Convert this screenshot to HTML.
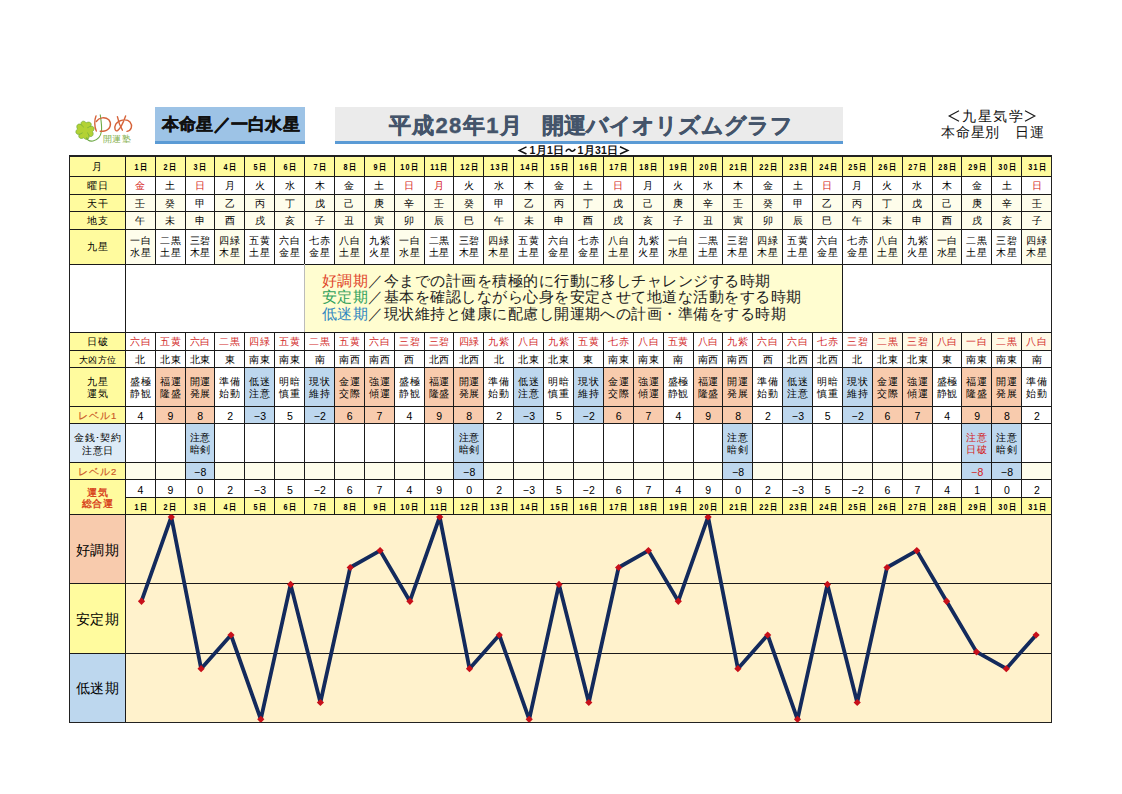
<!DOCTYPE html>
<html><head><meta charset="utf-8">
<style>
html,body{margin:0;padding:0;background:#fff;}
body{width:1122px;height:794px;position:relative;overflow:hidden;font-family:"Liberation Sans",sans-serif;color:#222;}
.r{position:absolute;}
.t{position:absolute;display:flex;align-items:center;justify-content:center;text-align:center;font-size:9.5px;line-height:12px;white-space:nowrap;letter-spacing:0.8px;box-sizing:border-box;padding-top:1.5px;padding-left:0.8px;color:#000;}
.t span{display:block;}
.hd{font-weight:bold;font-size:9px;letter-spacing:0.5px;padding-top:2px;}
.hd span{transform:scaleX(0.8);}
.hd i{font-style:normal;letter-spacing:1.6px;}
.lb{font-size:9.5px;letter-spacing:1.2px;}
.big{font-size:14px;}
.hj{color:#D22A2A;padding-top:2px;}
.nm{font-size:10.5px;padding-top:2.5px;letter-spacing:0.3px;}
.chart{position:absolute;left:0;top:0;}
.msg{position:absolute;font-size:15px;line-height:16.5px;color:#222;white-space:nowrap;letter-spacing:0.47px;}
.box1{position:absolute;left:155.3px;top:106.8px;width:149.5px;height:37.2px;background:#9DC3E6;}
.box1 .bb{position:absolute;left:0;bottom:0;width:100%;height:3.4px;background:#5B9BD5;}
.box1 .tx{position:absolute;left:6.5px;top:6px;font-size:17px;font-weight:bold;color:#111;white-space:nowrap;letter-spacing:0.28px;-webkit-text-stroke:0.45px #111;}
.box2{position:absolute;left:334.7px;top:107px;width:508px;height:37px;background:#EBEBEB;}
.box2 .bb{position:absolute;left:0;bottom:0;width:100%;height:3px;background:#5B9BD5;}
.box2 .tx{position:absolute;left:54px;top:4px;font-size:22px;font-weight:bold;color:#44546A;white-space:nowrap;letter-spacing:0.42px;-webkit-text-stroke:0.4px #44546A;}
.sub{position:absolute;top:143.5px;font-size:10.5px;line-height:12px;font-weight:bold;color:#111;white-space:nowrap;letter-spacing:0.3px;}
.rt{position:absolute;font-size:14px;line-height:17px;color:#111;white-space:nowrap;}
.logo{position:absolute;}
.yume{position:absolute;left:93px;top:110px;font-size:19px;color:#E06030;}
.kaiun{position:absolute;left:103px;top:134px;font-size:9px;line-height:11px;color:#86B04E;letter-spacing:0.3px;}
</style></head><body>
<svg class="logo" width="80" height="50" viewBox="70 104 80 50" style="left:70px;top:104px">
<g transform="translate(85,130.3) rotate(10)" fill="#B3D235" stroke="#76AE3C" stroke-width="0.7">
<path id="lf" d="M0,0.6 C-1.8,-1.5 -5.2,-3.2 -5.2,-6.2 C-5.2,-8.8 -2.2,-9.6 0,-7.6 C2.2,-9.6 5.2,-8.8 5.2,-6.2 C5.2,-3.2 1.8,-1.5 0,0.6Z"/>
<path d="M0,0.6 C-1.8,-1.5 -5.2,-3.2 -5.2,-6.2 C-5.2,-8.8 -2.2,-9.6 0,-7.6 C2.2,-9.6 5.2,-8.8 5.2,-6.2 C5.2,-3.2 1.8,-1.5 0,0.6Z" transform="rotate(90)"/>
<path d="M0,0.6 C-1.8,-1.5 -5.2,-3.2 -5.2,-6.2 C-5.2,-8.8 -2.2,-9.6 0,-7.6 C2.2,-9.6 5.2,-8.8 5.2,-6.2 C5.2,-3.2 1.8,-1.5 0,0.6Z" transform="rotate(180)"/>
<path d="M0,0.6 C-1.8,-1.5 -5.2,-3.2 -5.2,-6.2 C-5.2,-8.8 -2.2,-9.6 0,-7.6 C2.2,-9.6 5.2,-8.8 5.2,-6.2 C5.2,-3.2 1.8,-1.5 0,0.6Z" transform="rotate(270)"/>
</g>
<g transform="translate(85,130.3) rotate(10)" fill="#B3D235" stroke="none">
<circle r="3.2"/>
</g>
<path d="M86.5,137.5 C87.5,140.5 90,141.5 93,141 C97.5,140 100.8,136 101.5,131 C102,126 101,120 100.2,114.5" fill="none" stroke="#6FAA48" stroke-width="1.1"/>
<g fill="none" stroke="#D6633A" stroke-width="1.4" stroke-linecap="round">
<path d="M96,116 C94.3,120 94.3,127 96.3,131"/>
<path d="M96.3,121.5 C99,117.5 105,116.5 108.8,119.8 C112,123.5 110.5,129.8 104.5,131 C102.5,131.4 101.3,131.4 100.2,131.2"/>
<path d="M117.4,116.6 C118.3,121 119.8,126 122.4,130.2"/>
<path d="M125.6,116 C123.5,122 120.5,128.5 117.6,130.6 C115.2,132 113.8,128 115.8,124.2 C118.5,120 126.5,118.2 130,122 C133,125.8 131.5,130.3 127,131.4"/>
</g>
</svg>
<div class="kaiun">開運塾</div>
<div class="box1"><div class="bb"></div><div class="tx">本命星／一白水星</div></div>
<div class="box2"><div class="bb"></div><div class="tx" style="left:54px;letter-spacing:1.4px">平成28年1月</div><div class="tx" style="left:207px;letter-spacing:0px">開運バイオリズムグラフ</div></div>
<svg class="logo" width="1122" height="160" style="left:0;top:0" viewBox="0 0 1122 160">
<g fill="none" stroke="#1a1a1a" stroke-width="1.15">
<polyline points="959,110.8 949.2,116 959,121.2"/><polyline points="1025,110.8 1034.8,116 1025,121.2"/>
</g>
<g fill="none" stroke="#111" stroke-width="1.5">
<polyline points="526.5,146.8 519.2,150.4 526.5,154"/><polyline points="620,146.8 627.8,150.4 620,154"/>
<path d="M565.8,151.6 C567.5,148.6 569.5,148.8 570.5,150.2 C571.5,151.6 573.5,151.8 575.3,149"/>
</g>
</svg>
<div class="rt" style="left:962px;top:108px;letter-spacing:1.55px">九星気学</div>
<div class="rt" style="left:940.8px;top:124px;letter-spacing:0.9px">本命星別　日運</div>
<div class="sub" style="left:529.5px">1月1日</div>
<div class="sub" style="left:577.5px">1月31日</div>
<div class="r" style="left:69.50px;top:156.00px;width:55.80px;height:20.50px;background:#FFFB9E"></div><div class="r" style="left:69.50px;top:176.50px;width:55.80px;height:17.50px;background:#FFFB9E"></div><div class="r" style="left:69.50px;top:194.00px;width:55.80px;height:17.50px;background:#FFFB9E"></div><div class="r" style="left:69.50px;top:211.50px;width:55.80px;height:17.50px;background:#FFFB9E"></div><div class="r" style="left:69.50px;top:229.00px;width:55.80px;height:35.00px;background:#FFFB9E"></div><div class="r" style="left:69.50px;top:332.40px;width:55.80px;height:17.90px;background:#FFFB9E"></div><div class="r" style="left:69.50px;top:350.30px;width:55.80px;height:17.20px;background:#FFFB9E"></div><div class="r" style="left:69.50px;top:367.50px;width:55.80px;height:38.60px;background:#FFFB9E"></div><div class="r" style="left:69.50px;top:406.10px;width:55.80px;height:17.40px;background:#FFFB9E"></div><div class="r" style="left:69.50px;top:423.50px;width:55.80px;height:38.90px;background:#DDEBF7"></div><div class="r" style="left:69.50px;top:462.40px;width:55.80px;height:17.00px;background:#FFFB9E"></div><div class="r" style="left:69.50px;top:479.40px;width:55.80px;height:35.10px;background:#FFFB9E"></div><div class="r" style="left:69.50px;top:514.50px;width:55.80px;height:68.70px;background:#F8CBAD"></div><div class="r" style="left:69.50px;top:583.20px;width:55.80px;height:69.90px;background:#FFFB9E"></div><div class="r" style="left:69.50px;top:653.10px;width:55.80px;height:69.20px;background:#BDD7EE"></div><div class="r" style="left:125.30px;top:514.50px;width:926.28px;height:207.80px;background:#FFF2CC"></div><div class="r" style="left:125.30px;top:156.00px;width:29.88px;height:20.50px;background:#FFFB9E"></div><div class="r" style="left:125.30px;top:497.50px;width:29.88px;height:17.00px;background:#FFFB9E"></div><div class="r" style="left:125.30px;top:194.00px;width:29.88px;height:17.50px;background:#FEFDEB"></div><div class="r" style="left:125.30px;top:211.50px;width:29.88px;height:17.50px;background:#FEFDEB"></div><div class="r" style="left:125.30px;top:229.00px;width:29.88px;height:35.00px;background:#FEFDEB"></div><div class="r" style="left:125.30px;top:462.40px;width:29.88px;height:17.00px;background:#FEFDEB"></div><div class="r" style="left:155.18px;top:156.00px;width:29.88px;height:20.50px;background:#FFFB9E"></div><div class="r" style="left:155.18px;top:497.50px;width:29.88px;height:17.00px;background:#FFFB9E"></div><div class="r" style="left:155.18px;top:194.00px;width:29.88px;height:17.50px;background:#FEFDEB"></div><div class="r" style="left:155.18px;top:211.50px;width:29.88px;height:17.50px;background:#FEFDEB"></div><div class="r" style="left:155.18px;top:367.50px;width:29.88px;height:56.00px;background:#F8CBAD"></div><div class="r" style="left:155.18px;top:462.40px;width:29.88px;height:17.00px;background:#FEFDEB"></div><div class="r" style="left:185.06px;top:156.00px;width:29.88px;height:20.50px;background:#FFFB9E"></div><div class="r" style="left:185.06px;top:497.50px;width:29.88px;height:17.00px;background:#FFFB9E"></div><div class="r" style="left:185.06px;top:211.50px;width:29.88px;height:17.50px;background:#FEFDEB"></div><div class="r" style="left:185.06px;top:367.50px;width:29.88px;height:56.00px;background:#F8CBAD"></div><div class="r" style="left:185.06px;top:423.50px;width:29.88px;height:55.90px;background:#BDD7EE"></div><div class="r" style="left:214.94px;top:156.00px;width:29.88px;height:20.50px;background:#FFFB9E"></div><div class="r" style="left:214.94px;top:497.50px;width:29.88px;height:17.00px;background:#FFFB9E"></div><div class="r" style="left:214.94px;top:194.00px;width:29.88px;height:17.50px;background:#FEFDEB"></div><div class="r" style="left:214.94px;top:211.50px;width:29.88px;height:17.50px;background:#FEFDEB"></div><div class="r" style="left:214.94px;top:229.00px;width:29.88px;height:35.00px;background:#FEFDEB"></div><div class="r" style="left:214.94px;top:462.40px;width:29.88px;height:17.00px;background:#FEFDEB"></div><div class="r" style="left:244.82px;top:156.00px;width:29.88px;height:20.50px;background:#FFFB9E"></div><div class="r" style="left:244.82px;top:497.50px;width:29.88px;height:17.00px;background:#FFFB9E"></div><div class="r" style="left:244.82px;top:194.00px;width:29.88px;height:17.50px;background:#FEFDEB"></div><div class="r" style="left:244.82px;top:211.50px;width:29.88px;height:17.50px;background:#FEFDEB"></div><div class="r" style="left:244.82px;top:367.50px;width:29.88px;height:56.00px;background:#BDD7EE"></div><div class="r" style="left:244.82px;top:462.40px;width:29.88px;height:17.00px;background:#FEFDEB"></div><div class="r" style="left:274.70px;top:156.00px;width:29.88px;height:20.50px;background:#FFFB9E"></div><div class="r" style="left:274.70px;top:497.50px;width:29.88px;height:17.00px;background:#FFFB9E"></div><div class="r" style="left:274.70px;top:194.00px;width:29.88px;height:17.50px;background:#FEFDEB"></div><div class="r" style="left:274.70px;top:211.50px;width:29.88px;height:17.50px;background:#FEFDEB"></div><div class="r" style="left:274.70px;top:462.40px;width:29.88px;height:17.00px;background:#FEFDEB"></div><div class="r" style="left:304.58px;top:156.00px;width:29.88px;height:20.50px;background:#FFFB9E"></div><div class="r" style="left:304.58px;top:497.50px;width:29.88px;height:17.00px;background:#FFFB9E"></div><div class="r" style="left:304.58px;top:194.00px;width:29.88px;height:17.50px;background:#FEFDEB"></div><div class="r" style="left:304.58px;top:211.50px;width:29.88px;height:17.50px;background:#FEFDEB"></div><div class="r" style="left:304.58px;top:367.50px;width:29.88px;height:56.00px;background:#BDD7EE"></div><div class="r" style="left:304.58px;top:462.40px;width:29.88px;height:17.00px;background:#FEFDEB"></div><div class="r" style="left:334.46px;top:156.00px;width:29.88px;height:20.50px;background:#FFFB9E"></div><div class="r" style="left:334.46px;top:497.50px;width:29.88px;height:17.00px;background:#FFFB9E"></div><div class="r" style="left:334.46px;top:194.00px;width:29.88px;height:17.50px;background:#FEFDEB"></div><div class="r" style="left:334.46px;top:211.50px;width:29.88px;height:17.50px;background:#FEFDEB"></div><div class="r" style="left:334.46px;top:229.00px;width:29.88px;height:35.00px;background:#FEFDEB"></div><div class="r" style="left:334.46px;top:367.50px;width:29.88px;height:56.00px;background:#F8CBAD"></div><div class="r" style="left:334.46px;top:462.40px;width:29.88px;height:17.00px;background:#FEFDEB"></div><div class="r" style="left:364.34px;top:156.00px;width:29.88px;height:20.50px;background:#FFFB9E"></div><div class="r" style="left:364.34px;top:497.50px;width:29.88px;height:17.00px;background:#FFFB9E"></div><div class="r" style="left:364.34px;top:194.00px;width:29.88px;height:17.50px;background:#FEFDEB"></div><div class="r" style="left:364.34px;top:211.50px;width:29.88px;height:17.50px;background:#FEFDEB"></div><div class="r" style="left:364.34px;top:367.50px;width:29.88px;height:56.00px;background:#F8CBAD"></div><div class="r" style="left:364.34px;top:462.40px;width:29.88px;height:17.00px;background:#FEFDEB"></div><div class="r" style="left:394.22px;top:156.00px;width:29.88px;height:20.50px;background:#FFFB9E"></div><div class="r" style="left:394.22px;top:497.50px;width:29.88px;height:17.00px;background:#FFFB9E"></div><div class="r" style="left:394.22px;top:194.00px;width:29.88px;height:17.50px;background:#FEFDEB"></div><div class="r" style="left:394.22px;top:211.50px;width:29.88px;height:17.50px;background:#FEFDEB"></div><div class="r" style="left:394.22px;top:229.00px;width:29.88px;height:35.00px;background:#FEFDEB"></div><div class="r" style="left:394.22px;top:462.40px;width:29.88px;height:17.00px;background:#FEFDEB"></div><div class="r" style="left:424.10px;top:156.00px;width:29.88px;height:20.50px;background:#FFFB9E"></div><div class="r" style="left:424.10px;top:497.50px;width:29.88px;height:17.00px;background:#FFFB9E"></div><div class="r" style="left:424.10px;top:194.00px;width:29.88px;height:17.50px;background:#FEFDEB"></div><div class="r" style="left:424.10px;top:211.50px;width:29.88px;height:17.50px;background:#FEFDEB"></div><div class="r" style="left:424.10px;top:367.50px;width:29.88px;height:56.00px;background:#F8CBAD"></div><div class="r" style="left:424.10px;top:462.40px;width:29.88px;height:17.00px;background:#FEFDEB"></div><div class="r" style="left:453.98px;top:156.00px;width:29.88px;height:20.50px;background:#FFFB9E"></div><div class="r" style="left:453.98px;top:497.50px;width:29.88px;height:17.00px;background:#FFFB9E"></div><div class="r" style="left:453.98px;top:194.00px;width:29.88px;height:17.50px;background:#FEFDEB"></div><div class="r" style="left:453.98px;top:211.50px;width:29.88px;height:17.50px;background:#FEFDEB"></div><div class="r" style="left:453.98px;top:367.50px;width:29.88px;height:56.00px;background:#F8CBAD"></div><div class="r" style="left:453.98px;top:423.50px;width:29.88px;height:55.90px;background:#BDD7EE"></div><div class="r" style="left:483.86px;top:156.00px;width:29.88px;height:20.50px;background:#FFFB9E"></div><div class="r" style="left:483.86px;top:497.50px;width:29.88px;height:17.00px;background:#FFFB9E"></div><div class="r" style="left:483.86px;top:211.50px;width:29.88px;height:17.50px;background:#FEFDEB"></div><div class="r" style="left:483.86px;top:229.00px;width:29.88px;height:35.00px;background:#FEFDEB"></div><div class="r" style="left:483.86px;top:462.40px;width:29.88px;height:17.00px;background:#FEFDEB"></div><div class="r" style="left:513.74px;top:156.00px;width:29.88px;height:20.50px;background:#FFFB9E"></div><div class="r" style="left:513.74px;top:497.50px;width:29.88px;height:17.00px;background:#FFFB9E"></div><div class="r" style="left:513.74px;top:194.00px;width:29.88px;height:17.50px;background:#FEFDEB"></div><div class="r" style="left:513.74px;top:211.50px;width:29.88px;height:17.50px;background:#FEFDEB"></div><div class="r" style="left:513.74px;top:367.50px;width:29.88px;height:56.00px;background:#BDD7EE"></div><div class="r" style="left:513.74px;top:462.40px;width:29.88px;height:17.00px;background:#FEFDEB"></div><div class="r" style="left:543.62px;top:156.00px;width:29.88px;height:20.50px;background:#FFFB9E"></div><div class="r" style="left:543.62px;top:497.50px;width:29.88px;height:17.00px;background:#FFFB9E"></div><div class="r" style="left:543.62px;top:194.00px;width:29.88px;height:17.50px;background:#FEFDEB"></div><div class="r" style="left:543.62px;top:211.50px;width:29.88px;height:17.50px;background:#FEFDEB"></div><div class="r" style="left:543.62px;top:462.40px;width:29.88px;height:17.00px;background:#FEFDEB"></div><div class="r" style="left:573.50px;top:156.00px;width:29.88px;height:20.50px;background:#FFFB9E"></div><div class="r" style="left:573.50px;top:497.50px;width:29.88px;height:17.00px;background:#FFFB9E"></div><div class="r" style="left:573.50px;top:194.00px;width:29.88px;height:17.50px;background:#FEFDEB"></div><div class="r" style="left:573.50px;top:211.50px;width:29.88px;height:17.50px;background:#FEFDEB"></div><div class="r" style="left:573.50px;top:367.50px;width:29.88px;height:56.00px;background:#BDD7EE"></div><div class="r" style="left:573.50px;top:462.40px;width:29.88px;height:17.00px;background:#FEFDEB"></div><div class="r" style="left:603.38px;top:156.00px;width:29.88px;height:20.50px;background:#FFFB9E"></div><div class="r" style="left:603.38px;top:497.50px;width:29.88px;height:17.00px;background:#FFFB9E"></div><div class="r" style="left:603.38px;top:194.00px;width:29.88px;height:17.50px;background:#FEFDEB"></div><div class="r" style="left:603.38px;top:211.50px;width:29.88px;height:17.50px;background:#FEFDEB"></div><div class="r" style="left:603.38px;top:229.00px;width:29.88px;height:35.00px;background:#FEFDEB"></div><div class="r" style="left:603.38px;top:367.50px;width:29.88px;height:56.00px;background:#F8CBAD"></div><div class="r" style="left:603.38px;top:462.40px;width:29.88px;height:17.00px;background:#FEFDEB"></div><div class="r" style="left:633.26px;top:156.00px;width:29.88px;height:20.50px;background:#FFFB9E"></div><div class="r" style="left:633.26px;top:497.50px;width:29.88px;height:17.00px;background:#FFFB9E"></div><div class="r" style="left:633.26px;top:194.00px;width:29.88px;height:17.50px;background:#FEFDEB"></div><div class="r" style="left:633.26px;top:211.50px;width:29.88px;height:17.50px;background:#FEFDEB"></div><div class="r" style="left:633.26px;top:367.50px;width:29.88px;height:56.00px;background:#F8CBAD"></div><div class="r" style="left:633.26px;top:462.40px;width:29.88px;height:17.00px;background:#FEFDEB"></div><div class="r" style="left:663.14px;top:156.00px;width:29.88px;height:20.50px;background:#FFFB9E"></div><div class="r" style="left:663.14px;top:497.50px;width:29.88px;height:17.00px;background:#FFFB9E"></div><div class="r" style="left:663.14px;top:194.00px;width:29.88px;height:17.50px;background:#FEFDEB"></div><div class="r" style="left:663.14px;top:211.50px;width:29.88px;height:17.50px;background:#FEFDEB"></div><div class="r" style="left:663.14px;top:229.00px;width:29.88px;height:35.00px;background:#FEFDEB"></div><div class="r" style="left:663.14px;top:462.40px;width:29.88px;height:17.00px;background:#FEFDEB"></div><div class="r" style="left:693.02px;top:156.00px;width:29.88px;height:20.50px;background:#FFFB9E"></div><div class="r" style="left:693.02px;top:497.50px;width:29.88px;height:17.00px;background:#FFFB9E"></div><div class="r" style="left:693.02px;top:194.00px;width:29.88px;height:17.50px;background:#FEFDEB"></div><div class="r" style="left:693.02px;top:211.50px;width:29.88px;height:17.50px;background:#FEFDEB"></div><div class="r" style="left:693.02px;top:367.50px;width:29.88px;height:56.00px;background:#F8CBAD"></div><div class="r" style="left:693.02px;top:462.40px;width:29.88px;height:17.00px;background:#FEFDEB"></div><div class="r" style="left:722.90px;top:156.00px;width:29.88px;height:20.50px;background:#FFFB9E"></div><div class="r" style="left:722.90px;top:497.50px;width:29.88px;height:17.00px;background:#FFFB9E"></div><div class="r" style="left:722.90px;top:194.00px;width:29.88px;height:17.50px;background:#FEFDEB"></div><div class="r" style="left:722.90px;top:211.50px;width:29.88px;height:17.50px;background:#FEFDEB"></div><div class="r" style="left:722.90px;top:367.50px;width:29.88px;height:56.00px;background:#F8CBAD"></div><div class="r" style="left:722.90px;top:423.50px;width:29.88px;height:55.90px;background:#BDD7EE"></div><div class="r" style="left:752.78px;top:156.00px;width:29.88px;height:20.50px;background:#FFFB9E"></div><div class="r" style="left:752.78px;top:497.50px;width:29.88px;height:17.00px;background:#FFFB9E"></div><div class="r" style="left:752.78px;top:194.00px;width:29.88px;height:17.50px;background:#FEFDEB"></div><div class="r" style="left:752.78px;top:211.50px;width:29.88px;height:17.50px;background:#FEFDEB"></div><div class="r" style="left:752.78px;top:229.00px;width:29.88px;height:35.00px;background:#FEFDEB"></div><div class="r" style="left:752.78px;top:462.40px;width:29.88px;height:17.00px;background:#FEFDEB"></div><div class="r" style="left:782.66px;top:156.00px;width:29.88px;height:20.50px;background:#FFFB9E"></div><div class="r" style="left:782.66px;top:497.50px;width:29.88px;height:17.00px;background:#FFFB9E"></div><div class="r" style="left:782.66px;top:211.50px;width:29.88px;height:17.50px;background:#FEFDEB"></div><div class="r" style="left:782.66px;top:367.50px;width:29.88px;height:56.00px;background:#BDD7EE"></div><div class="r" style="left:782.66px;top:462.40px;width:29.88px;height:17.00px;background:#FEFDEB"></div><div class="r" style="left:812.54px;top:156.00px;width:29.88px;height:20.50px;background:#FFFB9E"></div><div class="r" style="left:812.54px;top:497.50px;width:29.88px;height:17.00px;background:#FFFB9E"></div><div class="r" style="left:812.54px;top:194.00px;width:29.88px;height:17.50px;background:#FEFDEB"></div><div class="r" style="left:812.54px;top:211.50px;width:29.88px;height:17.50px;background:#FEFDEB"></div><div class="r" style="left:812.54px;top:462.40px;width:29.88px;height:17.00px;background:#FEFDEB"></div><div class="r" style="left:842.42px;top:156.00px;width:29.88px;height:20.50px;background:#FFFB9E"></div><div class="r" style="left:842.42px;top:497.50px;width:29.88px;height:17.00px;background:#FFFB9E"></div><div class="r" style="left:842.42px;top:194.00px;width:29.88px;height:17.50px;background:#FEFDEB"></div><div class="r" style="left:842.42px;top:211.50px;width:29.88px;height:17.50px;background:#FEFDEB"></div><div class="r" style="left:842.42px;top:367.50px;width:29.88px;height:56.00px;background:#BDD7EE"></div><div class="r" style="left:842.42px;top:462.40px;width:29.88px;height:17.00px;background:#FEFDEB"></div><div class="r" style="left:872.30px;top:156.00px;width:29.88px;height:20.50px;background:#FFFB9E"></div><div class="r" style="left:872.30px;top:497.50px;width:29.88px;height:17.00px;background:#FFFB9E"></div><div class="r" style="left:872.30px;top:194.00px;width:29.88px;height:17.50px;background:#FEFDEB"></div><div class="r" style="left:872.30px;top:211.50px;width:29.88px;height:17.50px;background:#FEFDEB"></div><div class="r" style="left:872.30px;top:229.00px;width:29.88px;height:35.00px;background:#FEFDEB"></div><div class="r" style="left:872.30px;top:367.50px;width:29.88px;height:56.00px;background:#F8CBAD"></div><div class="r" style="left:872.30px;top:332.40px;width:29.88px;height:17.90px;background:#FFF9E6"></div><div class="r" style="left:872.30px;top:462.40px;width:29.88px;height:17.00px;background:#FEFDEB"></div><div class="r" style="left:902.18px;top:156.00px;width:29.88px;height:20.50px;background:#FFFB9E"></div><div class="r" style="left:902.18px;top:497.50px;width:29.88px;height:17.00px;background:#FFFB9E"></div><div class="r" style="left:902.18px;top:194.00px;width:29.88px;height:17.50px;background:#FEFDEB"></div><div class="r" style="left:902.18px;top:211.50px;width:29.88px;height:17.50px;background:#FEFDEB"></div><div class="r" style="left:902.18px;top:367.50px;width:29.88px;height:56.00px;background:#F8CBAD"></div><div class="r" style="left:902.18px;top:332.40px;width:29.88px;height:17.90px;background:#FFF9E6"></div><div class="r" style="left:902.18px;top:462.40px;width:29.88px;height:17.00px;background:#FEFDEB"></div><div class="r" style="left:932.06px;top:156.00px;width:29.88px;height:20.50px;background:#FFFB9E"></div><div class="r" style="left:932.06px;top:497.50px;width:29.88px;height:17.00px;background:#FFFB9E"></div><div class="r" style="left:932.06px;top:194.00px;width:29.88px;height:17.50px;background:#FEFDEB"></div><div class="r" style="left:932.06px;top:211.50px;width:29.88px;height:17.50px;background:#FEFDEB"></div><div class="r" style="left:932.06px;top:229.00px;width:29.88px;height:35.00px;background:#FEFDEB"></div><div class="r" style="left:932.06px;top:332.40px;width:29.88px;height:17.90px;background:#FFF9E6"></div><div class="r" style="left:932.06px;top:462.40px;width:29.88px;height:17.00px;background:#FEFDEB"></div><div class="r" style="left:961.94px;top:156.00px;width:29.88px;height:20.50px;background:#FFFB9E"></div><div class="r" style="left:961.94px;top:497.50px;width:29.88px;height:17.00px;background:#FFFB9E"></div><div class="r" style="left:961.94px;top:194.00px;width:29.88px;height:17.50px;background:#FEFDEB"></div><div class="r" style="left:961.94px;top:211.50px;width:29.88px;height:17.50px;background:#FEFDEB"></div><div class="r" style="left:961.94px;top:367.50px;width:29.88px;height:56.00px;background:#F8CBAD"></div><div class="r" style="left:961.94px;top:332.40px;width:29.88px;height:17.90px;background:#FFF9E6"></div><div class="r" style="left:961.94px;top:423.50px;width:29.88px;height:55.90px;background:#BDD7EE"></div><div class="r" style="left:991.82px;top:156.00px;width:29.88px;height:20.50px;background:#FFFB9E"></div><div class="r" style="left:991.82px;top:497.50px;width:29.88px;height:17.00px;background:#FFFB9E"></div><div class="r" style="left:991.82px;top:194.00px;width:29.88px;height:17.50px;background:#FEFDEB"></div><div class="r" style="left:991.82px;top:211.50px;width:29.88px;height:17.50px;background:#FEFDEB"></div><div class="r" style="left:991.82px;top:367.50px;width:29.88px;height:56.00px;background:#F8CBAD"></div><div class="r" style="left:991.82px;top:332.40px;width:29.88px;height:17.90px;background:#FFF9E6"></div><div class="r" style="left:991.82px;top:423.50px;width:29.88px;height:55.90px;background:#BDD7EE"></div><div class="r" style="left:1021.70px;top:156.00px;width:29.88px;height:20.50px;background:#FFFB9E"></div><div class="r" style="left:1021.70px;top:497.50px;width:29.88px;height:17.00px;background:#FFFB9E"></div><div class="r" style="left:1021.70px;top:194.00px;width:29.88px;height:17.50px;background:#FEFDEB"></div><div class="r" style="left:1021.70px;top:211.50px;width:29.88px;height:17.50px;background:#FEFDEB"></div><div class="r" style="left:1021.70px;top:229.00px;width:29.88px;height:35.00px;background:#FEFDEB"></div><div class="r" style="left:1021.70px;top:332.40px;width:29.88px;height:17.90px;background:#FFF9E6"></div><div class="r" style="left:1021.70px;top:462.40px;width:29.88px;height:17.00px;background:#FEFDEB"></div><div class="r" style="left:304.58px;top:264.00px;width:537.84px;height:68.40px;background:#FFFDD0"></div><div class="r" style="left:69.00px;top:155.20px;width:983.08px;height:1.6px;background:#222"></div><div class="r" style="left:69.50px;top:176.00px;width:982.08px;height:1px;background:#1a1a1a"></div><div class="r" style="left:69.50px;top:193.50px;width:982.08px;height:1px;background:#1a1a1a"></div><div class="r" style="left:69.50px;top:211.00px;width:982.08px;height:1px;background:#1a1a1a"></div><div class="r" style="left:69.50px;top:228.50px;width:982.08px;height:1px;background:#1a1a1a"></div><div class="r" style="left:69.50px;top:263.50px;width:982.08px;height:1px;background:#1a1a1a"></div><div class="r" style="left:69.50px;top:331.90px;width:982.08px;height:1px;background:#1a1a1a"></div><div class="r" style="left:69.50px;top:349.80px;width:982.08px;height:1px;background:#1a1a1a"></div><div class="r" style="left:69.50px;top:367.00px;width:982.08px;height:1px;background:#1a1a1a"></div><div class="r" style="left:69.50px;top:405.60px;width:982.08px;height:1px;background:#1a1a1a"></div><div class="r" style="left:69.50px;top:423.00px;width:982.08px;height:1px;background:#1a1a1a"></div><div class="r" style="left:69.50px;top:461.90px;width:982.08px;height:1px;background:#1a1a1a"></div><div class="r" style="left:69.50px;top:478.90px;width:982.08px;height:1px;background:#1a1a1a"></div><div class="r" style="left:125.30px;top:497.00px;width:926.28px;height:1px;background:#1a1a1a"></div><div class="r" style="left:69.50px;top:513.95px;width:982.08px;height:1.1px;background:#1a1a1a"></div><div class="r" style="left:69.50px;top:582.70px;width:982.08px;height:1px;background:#1a1a1a"></div><div class="r" style="left:69.50px;top:652.60px;width:982.08px;height:1px;background:#1a1a1a"></div><div class="r" style="left:69.00px;top:721.65px;width:983.08px;height:1.3px;background:#222"></div><div class="r" style="left:68.70px;top:156.00px;width:1.6px;height:566.30px;background:#222"></div><div class="r" style="left:1050.93px;top:156.00px;width:1.3px;height:566.30px;background:#222"></div><div class="r" style="left:124.70px;top:156.00px;width:1.2px;height:566.30px;background:#1a1a1a"></div><div class="r" style="left:154.68px;top:156.00px;width:1px;height:108.00px;background:#1a1a1a"></div><div class="r" style="left:154.68px;top:332.40px;width:1px;height:182.10px;background:#1a1a1a"></div><div class="r" style="left:184.56px;top:156.00px;width:1px;height:108.00px;background:#1a1a1a"></div><div class="r" style="left:184.56px;top:332.40px;width:1px;height:182.10px;background:#1a1a1a"></div><div class="r" style="left:214.44px;top:156.00px;width:1px;height:108.00px;background:#1a1a1a"></div><div class="r" style="left:214.44px;top:332.40px;width:1px;height:182.10px;background:#1a1a1a"></div><div class="r" style="left:244.32px;top:156.00px;width:1px;height:108.00px;background:#1a1a1a"></div><div class="r" style="left:244.32px;top:332.40px;width:1px;height:182.10px;background:#1a1a1a"></div><div class="r" style="left:274.20px;top:156.00px;width:1px;height:108.00px;background:#1a1a1a"></div><div class="r" style="left:274.20px;top:332.40px;width:1px;height:182.10px;background:#1a1a1a"></div><div class="r" style="left:304.08px;top:156.00px;width:1px;height:108.00px;background:#1a1a1a"></div><div class="r" style="left:304.08px;top:332.40px;width:1px;height:182.10px;background:#1a1a1a"></div><div class="r" style="left:333.96px;top:156.00px;width:1px;height:108.00px;background:#1a1a1a"></div><div class="r" style="left:333.96px;top:332.40px;width:1px;height:182.10px;background:#1a1a1a"></div><div class="r" style="left:363.84px;top:156.00px;width:1px;height:108.00px;background:#1a1a1a"></div><div class="r" style="left:363.84px;top:332.40px;width:1px;height:182.10px;background:#1a1a1a"></div><div class="r" style="left:393.72px;top:156.00px;width:1px;height:108.00px;background:#1a1a1a"></div><div class="r" style="left:393.72px;top:332.40px;width:1px;height:182.10px;background:#1a1a1a"></div><div class="r" style="left:423.60px;top:156.00px;width:1px;height:108.00px;background:#1a1a1a"></div><div class="r" style="left:423.60px;top:332.40px;width:1px;height:182.10px;background:#1a1a1a"></div><div class="r" style="left:453.48px;top:156.00px;width:1px;height:108.00px;background:#1a1a1a"></div><div class="r" style="left:453.48px;top:332.40px;width:1px;height:182.10px;background:#1a1a1a"></div><div class="r" style="left:483.36px;top:156.00px;width:1px;height:108.00px;background:#1a1a1a"></div><div class="r" style="left:483.36px;top:332.40px;width:1px;height:182.10px;background:#1a1a1a"></div><div class="r" style="left:513.24px;top:156.00px;width:1px;height:108.00px;background:#1a1a1a"></div><div class="r" style="left:513.24px;top:332.40px;width:1px;height:182.10px;background:#1a1a1a"></div><div class="r" style="left:543.12px;top:156.00px;width:1px;height:108.00px;background:#1a1a1a"></div><div class="r" style="left:543.12px;top:332.40px;width:1px;height:182.10px;background:#1a1a1a"></div><div class="r" style="left:573.00px;top:156.00px;width:1px;height:108.00px;background:#1a1a1a"></div><div class="r" style="left:573.00px;top:332.40px;width:1px;height:182.10px;background:#1a1a1a"></div><div class="r" style="left:602.88px;top:156.00px;width:1px;height:108.00px;background:#1a1a1a"></div><div class="r" style="left:602.88px;top:332.40px;width:1px;height:182.10px;background:#1a1a1a"></div><div class="r" style="left:632.76px;top:156.00px;width:1px;height:108.00px;background:#1a1a1a"></div><div class="r" style="left:632.76px;top:332.40px;width:1px;height:182.10px;background:#1a1a1a"></div><div class="r" style="left:662.64px;top:156.00px;width:1px;height:108.00px;background:#1a1a1a"></div><div class="r" style="left:662.64px;top:332.40px;width:1px;height:182.10px;background:#1a1a1a"></div><div class="r" style="left:692.52px;top:156.00px;width:1px;height:108.00px;background:#1a1a1a"></div><div class="r" style="left:692.52px;top:332.40px;width:1px;height:182.10px;background:#1a1a1a"></div><div class="r" style="left:722.40px;top:156.00px;width:1px;height:108.00px;background:#1a1a1a"></div><div class="r" style="left:722.40px;top:332.40px;width:1px;height:182.10px;background:#1a1a1a"></div><div class="r" style="left:752.28px;top:156.00px;width:1px;height:108.00px;background:#1a1a1a"></div><div class="r" style="left:752.28px;top:332.40px;width:1px;height:182.10px;background:#1a1a1a"></div><div class="r" style="left:782.16px;top:156.00px;width:1px;height:108.00px;background:#1a1a1a"></div><div class="r" style="left:782.16px;top:332.40px;width:1px;height:182.10px;background:#1a1a1a"></div><div class="r" style="left:812.04px;top:156.00px;width:1px;height:108.00px;background:#1a1a1a"></div><div class="r" style="left:812.04px;top:332.40px;width:1px;height:182.10px;background:#1a1a1a"></div><div class="r" style="left:841.92px;top:156.00px;width:1px;height:108.00px;background:#1a1a1a"></div><div class="r" style="left:841.92px;top:332.40px;width:1px;height:182.10px;background:#1a1a1a"></div><div class="r" style="left:871.80px;top:156.00px;width:1px;height:108.00px;background:#1a1a1a"></div><div class="r" style="left:871.80px;top:332.40px;width:1px;height:182.10px;background:#1a1a1a"></div><div class="r" style="left:901.68px;top:156.00px;width:1px;height:108.00px;background:#1a1a1a"></div><div class="r" style="left:901.68px;top:332.40px;width:1px;height:182.10px;background:#1a1a1a"></div><div class="r" style="left:931.56px;top:156.00px;width:1px;height:108.00px;background:#1a1a1a"></div><div class="r" style="left:931.56px;top:332.40px;width:1px;height:182.10px;background:#1a1a1a"></div><div class="r" style="left:961.44px;top:156.00px;width:1px;height:108.00px;background:#1a1a1a"></div><div class="r" style="left:961.44px;top:332.40px;width:1px;height:182.10px;background:#1a1a1a"></div><div class="r" style="left:991.32px;top:156.00px;width:1px;height:108.00px;background:#1a1a1a"></div><div class="r" style="left:991.32px;top:332.40px;width:1px;height:182.10px;background:#1a1a1a"></div><div class="r" style="left:1021.20px;top:156.00px;width:1px;height:108.00px;background:#1a1a1a"></div><div class="r" style="left:1021.20px;top:332.40px;width:1px;height:182.10px;background:#1a1a1a"></div><div class="r" style="left:841.92px;top:264.00px;width:1px;height:68.40px;background:#1a1a1a"></div><div class="r" style="left:304.28px;top:264.00px;width:0.6px;height:68.40px;background:#bbb"></div><div class="t c lb" style="left:69.50px;top:156.00px;width:55.80px;height:20.50px;"><span>月</span></div><div class="t c lb" style="left:69.50px;top:176.50px;width:55.80px;height:17.50px;"><span>曜日</span></div><div class="t c lb" style="left:69.50px;top:194.00px;width:55.80px;height:17.50px;"><span>天干</span></div><div class="t c lb" style="left:69.50px;top:211.50px;width:55.80px;height:17.50px;"><span>地支</span></div><div class="t c lb" style="left:69.50px;top:229.00px;width:55.80px;height:35.00px;"><span>九星</span></div><div class="t c lb" style="left:69.50px;top:332.40px;width:55.80px;height:17.90px;"><span>日破</span></div><div class="t c lb" style="left:69.50px;top:350.30px;width:55.80px;height:17.20px;font-size:9px;letter-spacing:0.3px"><span>大凶方位</span></div><div class="t c lb" style="left:69.50px;top:367.50px;width:55.80px;height:38.60px;"><span>九星<br>運気</span></div><div class="t c lb" style="left:69.50px;top:406.10px;width:55.80px;height:17.40px;color:#CC5A28;letter-spacing:0.9px;-webkit-text-stroke:0.2px #CC5A28"><span>レベル1</span></div><div class="t c lb" style="left:69.50px;top:423.50px;width:55.80px;height:38.90px;font-size:9.5px;letter-spacing:0.4px;line-height:13px"><span>金銭･契約<br>注意日</span></div><div class="t c lb" style="left:69.50px;top:462.40px;width:55.80px;height:17.00px;color:#CC5A28;letter-spacing:0.9px;-webkit-text-stroke:0.2px #CC5A28"><span>レベル2</span></div><div class="t c lb" style="left:69.50px;top:479.40px;width:55.80px;height:35.10px;color:#D8461E;font-weight:bold;letter-spacing:0.6px;line-height:11px"><span>運気<br>総合運</span></div><div class="t c big" style="left:69.50px;top:514.50px;width:55.80px;height:68.70px;"><span>好調期</span></div><div class="t c big" style="left:69.50px;top:583.20px;width:55.80px;height:69.90px;"><span>安定期</span></div><div class="t c big" style="left:69.50px;top:653.10px;width:55.80px;height:69.20px;"><span>低迷期</span></div><div class="t c hd" style="left:125.30px;top:156.00px;width:29.88px;height:20.50px;"><span><i>1</i>日</span></div><div class="t c hd" style="left:125.30px;top:497.50px;width:29.88px;height:17.00px;"><span><i>1</i>日</span></div><div class="t c" style="left:125.30px;top:176.50px;width:29.88px;height:17.50px;color:#D42020"><span>金</span></div><div class="t c" style="left:125.30px;top:194.00px;width:29.88px;height:17.50px;"><span>壬</span></div><div class="t c" style="left:125.30px;top:211.50px;width:29.88px;height:17.50px;"><span>午</span></div><div class="t c two" style="left:125.30px;top:229.00px;width:29.88px;height:35.00px;"><span>一白<br>水星</span></div><div class="t c hj" style="left:125.30px;top:332.40px;width:29.88px;height:17.90px;"><span>六白</span></div><div class="t c" style="left:125.30px;top:350.30px;width:29.88px;height:17.20px;"><span>北</span></div><div class="t c two" style="left:125.30px;top:367.50px;width:29.88px;height:38.60px;"><span>盛極<br>静観</span></div><div class="t c nm" style="left:125.30px;top:406.10px;width:29.88px;height:17.40px;"><span>4</span></div><div class="t c nm" style="left:125.30px;top:479.40px;width:29.88px;height:18.10px;"><span>4</span></div><div class="t c hd" style="left:155.18px;top:156.00px;width:29.88px;height:20.50px;"><span><i>2</i>日</span></div><div class="t c hd" style="left:155.18px;top:497.50px;width:29.88px;height:17.00px;"><span><i>2</i>日</span></div><div class="t c" style="left:155.18px;top:176.50px;width:29.88px;height:17.50px;"><span>土</span></div><div class="t c" style="left:155.18px;top:194.00px;width:29.88px;height:17.50px;"><span>癸</span></div><div class="t c" style="left:155.18px;top:211.50px;width:29.88px;height:17.50px;"><span>未</span></div><div class="t c two" style="left:155.18px;top:229.00px;width:29.88px;height:35.00px;"><span>二黒<br>土星</span></div><div class="t c hj" style="left:155.18px;top:332.40px;width:29.88px;height:17.90px;"><span>五黄</span></div><div class="t c" style="left:155.18px;top:350.30px;width:29.88px;height:17.20px;"><span>北東</span></div><div class="t c two" style="left:155.18px;top:367.50px;width:29.88px;height:38.60px;"><span>福運<br>隆盛</span></div><div class="t c nm" style="left:155.18px;top:406.10px;width:29.88px;height:17.40px;"><span>9</span></div><div class="t c nm" style="left:155.18px;top:479.40px;width:29.88px;height:18.10px;"><span>9</span></div><div class="t c hd" style="left:185.06px;top:156.00px;width:29.88px;height:20.50px;"><span><i>3</i>日</span></div><div class="t c hd" style="left:185.06px;top:497.50px;width:29.88px;height:17.00px;"><span><i>3</i>日</span></div><div class="t c" style="left:185.06px;top:176.50px;width:29.88px;height:17.50px;color:#D42020"><span>日</span></div><div class="t c" style="left:185.06px;top:194.00px;width:29.88px;height:17.50px;"><span>甲</span></div><div class="t c" style="left:185.06px;top:211.50px;width:29.88px;height:17.50px;"><span>申</span></div><div class="t c two" style="left:185.06px;top:229.00px;width:29.88px;height:35.00px;"><span>三碧<br>木星</span></div><div class="t c hj" style="left:185.06px;top:332.40px;width:29.88px;height:17.90px;"><span>六白</span></div><div class="t c" style="left:185.06px;top:350.30px;width:29.88px;height:17.20px;"><span>北東</span></div><div class="t c two" style="left:185.06px;top:367.50px;width:29.88px;height:38.60px;"><span>開運<br>発展</span></div><div class="t c nm" style="left:185.06px;top:406.10px;width:29.88px;height:17.40px;"><span>8</span></div><div class="t c two" style="left:185.06px;top:423.50px;width:29.88px;height:38.90px;"><span>注意<br>暗剣</span></div><div class="t c nm" style="left:185.06px;top:462.40px;width:29.88px;height:17.00px;"><span>−8</span></div><div class="t c nm" style="left:185.06px;top:479.40px;width:29.88px;height:18.10px;"><span>0</span></div><div class="t c hd" style="left:214.94px;top:156.00px;width:29.88px;height:20.50px;"><span><i>4</i>日</span></div><div class="t c hd" style="left:214.94px;top:497.50px;width:29.88px;height:17.00px;"><span><i>4</i>日</span></div><div class="t c" style="left:214.94px;top:176.50px;width:29.88px;height:17.50px;"><span>月</span></div><div class="t c" style="left:214.94px;top:194.00px;width:29.88px;height:17.50px;"><span>乙</span></div><div class="t c" style="left:214.94px;top:211.50px;width:29.88px;height:17.50px;"><span>酉</span></div><div class="t c two" style="left:214.94px;top:229.00px;width:29.88px;height:35.00px;"><span>四緑<br>木星</span></div><div class="t c hj" style="left:214.94px;top:332.40px;width:29.88px;height:17.90px;"><span>二黒</span></div><div class="t c" style="left:214.94px;top:350.30px;width:29.88px;height:17.20px;"><span>東</span></div><div class="t c two" style="left:214.94px;top:367.50px;width:29.88px;height:38.60px;"><span>準備<br>始動</span></div><div class="t c nm" style="left:214.94px;top:406.10px;width:29.88px;height:17.40px;"><span>2</span></div><div class="t c nm" style="left:214.94px;top:479.40px;width:29.88px;height:18.10px;"><span>2</span></div><div class="t c hd" style="left:244.82px;top:156.00px;width:29.88px;height:20.50px;"><span><i>5</i>日</span></div><div class="t c hd" style="left:244.82px;top:497.50px;width:29.88px;height:17.00px;"><span><i>5</i>日</span></div><div class="t c" style="left:244.82px;top:176.50px;width:29.88px;height:17.50px;"><span>火</span></div><div class="t c" style="left:244.82px;top:194.00px;width:29.88px;height:17.50px;"><span>丙</span></div><div class="t c" style="left:244.82px;top:211.50px;width:29.88px;height:17.50px;"><span>戌</span></div><div class="t c two" style="left:244.82px;top:229.00px;width:29.88px;height:35.00px;"><span>五黄<br>土星</span></div><div class="t c hj" style="left:244.82px;top:332.40px;width:29.88px;height:17.90px;"><span>四緑</span></div><div class="t c" style="left:244.82px;top:350.30px;width:29.88px;height:17.20px;"><span>南東</span></div><div class="t c two" style="left:244.82px;top:367.50px;width:29.88px;height:38.60px;"><span>低迷<br>注意</span></div><div class="t c nm" style="left:244.82px;top:406.10px;width:29.88px;height:17.40px;"><span>−3</span></div><div class="t c nm" style="left:244.82px;top:479.40px;width:29.88px;height:18.10px;"><span>−3</span></div><div class="t c hd" style="left:274.70px;top:156.00px;width:29.88px;height:20.50px;"><span><i>6</i>日</span></div><div class="t c hd" style="left:274.70px;top:497.50px;width:29.88px;height:17.00px;"><span><i>6</i>日</span></div><div class="t c" style="left:274.70px;top:176.50px;width:29.88px;height:17.50px;"><span>水</span></div><div class="t c" style="left:274.70px;top:194.00px;width:29.88px;height:17.50px;"><span>丁</span></div><div class="t c" style="left:274.70px;top:211.50px;width:29.88px;height:17.50px;"><span>亥</span></div><div class="t c two" style="left:274.70px;top:229.00px;width:29.88px;height:35.00px;"><span>六白<br>金星</span></div><div class="t c hj" style="left:274.70px;top:332.40px;width:29.88px;height:17.90px;"><span>五黄</span></div><div class="t c" style="left:274.70px;top:350.30px;width:29.88px;height:17.20px;"><span>南東</span></div><div class="t c two" style="left:274.70px;top:367.50px;width:29.88px;height:38.60px;"><span>明暗<br>慎重</span></div><div class="t c nm" style="left:274.70px;top:406.10px;width:29.88px;height:17.40px;"><span>5</span></div><div class="t c nm" style="left:274.70px;top:479.40px;width:29.88px;height:18.10px;"><span>5</span></div><div class="t c hd" style="left:304.58px;top:156.00px;width:29.88px;height:20.50px;"><span><i>7</i>日</span></div><div class="t c hd" style="left:304.58px;top:497.50px;width:29.88px;height:17.00px;"><span><i>7</i>日</span></div><div class="t c" style="left:304.58px;top:176.50px;width:29.88px;height:17.50px;"><span>木</span></div><div class="t c" style="left:304.58px;top:194.00px;width:29.88px;height:17.50px;"><span>戊</span></div><div class="t c" style="left:304.58px;top:211.50px;width:29.88px;height:17.50px;"><span>子</span></div><div class="t c two" style="left:304.58px;top:229.00px;width:29.88px;height:35.00px;"><span>七赤<br>金星</span></div><div class="t c hj" style="left:304.58px;top:332.40px;width:29.88px;height:17.90px;"><span>二黒</span></div><div class="t c" style="left:304.58px;top:350.30px;width:29.88px;height:17.20px;"><span>南</span></div><div class="t c two" style="left:304.58px;top:367.50px;width:29.88px;height:38.60px;"><span>現状<br>維持</span></div><div class="t c nm" style="left:304.58px;top:406.10px;width:29.88px;height:17.40px;"><span>−2</span></div><div class="t c nm" style="left:304.58px;top:479.40px;width:29.88px;height:18.10px;"><span>−2</span></div><div class="t c hd" style="left:334.46px;top:156.00px;width:29.88px;height:20.50px;"><span><i>8</i>日</span></div><div class="t c hd" style="left:334.46px;top:497.50px;width:29.88px;height:17.00px;"><span><i>8</i>日</span></div><div class="t c" style="left:334.46px;top:176.50px;width:29.88px;height:17.50px;"><span>金</span></div><div class="t c" style="left:334.46px;top:194.00px;width:29.88px;height:17.50px;"><span>己</span></div><div class="t c" style="left:334.46px;top:211.50px;width:29.88px;height:17.50px;"><span>丑</span></div><div class="t c two" style="left:334.46px;top:229.00px;width:29.88px;height:35.00px;"><span>八白<br>土星</span></div><div class="t c hj" style="left:334.46px;top:332.40px;width:29.88px;height:17.90px;"><span>五黄</span></div><div class="t c" style="left:334.46px;top:350.30px;width:29.88px;height:17.20px;"><span>南西</span></div><div class="t c two" style="left:334.46px;top:367.50px;width:29.88px;height:38.60px;"><span>金運<br>交際</span></div><div class="t c nm" style="left:334.46px;top:406.10px;width:29.88px;height:17.40px;"><span>6</span></div><div class="t c nm" style="left:334.46px;top:479.40px;width:29.88px;height:18.10px;"><span>6</span></div><div class="t c hd" style="left:364.34px;top:156.00px;width:29.88px;height:20.50px;"><span><i>9</i>日</span></div><div class="t c hd" style="left:364.34px;top:497.50px;width:29.88px;height:17.00px;"><span><i>9</i>日</span></div><div class="t c" style="left:364.34px;top:176.50px;width:29.88px;height:17.50px;"><span>土</span></div><div class="t c" style="left:364.34px;top:194.00px;width:29.88px;height:17.50px;"><span>庚</span></div><div class="t c" style="left:364.34px;top:211.50px;width:29.88px;height:17.50px;"><span>寅</span></div><div class="t c two" style="left:364.34px;top:229.00px;width:29.88px;height:35.00px;"><span>九紫<br>火星</span></div><div class="t c hj" style="left:364.34px;top:332.40px;width:29.88px;height:17.90px;"><span>六白</span></div><div class="t c" style="left:364.34px;top:350.30px;width:29.88px;height:17.20px;"><span>南西</span></div><div class="t c two" style="left:364.34px;top:367.50px;width:29.88px;height:38.60px;"><span>強運<br>傾運</span></div><div class="t c nm" style="left:364.34px;top:406.10px;width:29.88px;height:17.40px;"><span>7</span></div><div class="t c nm" style="left:364.34px;top:479.40px;width:29.88px;height:18.10px;"><span>7</span></div><div class="t c hd" style="left:394.22px;top:156.00px;width:29.88px;height:20.50px;"><span><i>10</i>日</span></div><div class="t c hd" style="left:394.22px;top:497.50px;width:29.88px;height:17.00px;"><span><i>10</i>日</span></div><div class="t c" style="left:394.22px;top:176.50px;width:29.88px;height:17.50px;color:#D42020"><span>日</span></div><div class="t c" style="left:394.22px;top:194.00px;width:29.88px;height:17.50px;"><span>辛</span></div><div class="t c" style="left:394.22px;top:211.50px;width:29.88px;height:17.50px;"><span>卯</span></div><div class="t c two" style="left:394.22px;top:229.00px;width:29.88px;height:35.00px;"><span>一白<br>水星</span></div><div class="t c hj" style="left:394.22px;top:332.40px;width:29.88px;height:17.90px;"><span>三碧</span></div><div class="t c" style="left:394.22px;top:350.30px;width:29.88px;height:17.20px;"><span>西</span></div><div class="t c two" style="left:394.22px;top:367.50px;width:29.88px;height:38.60px;"><span>盛極<br>静観</span></div><div class="t c nm" style="left:394.22px;top:406.10px;width:29.88px;height:17.40px;"><span>4</span></div><div class="t c nm" style="left:394.22px;top:479.40px;width:29.88px;height:18.10px;"><span>4</span></div><div class="t c hd" style="left:424.10px;top:156.00px;width:29.88px;height:20.50px;"><span><i>11</i>日</span></div><div class="t c hd" style="left:424.10px;top:497.50px;width:29.88px;height:17.00px;"><span><i>11</i>日</span></div><div class="t c" style="left:424.10px;top:176.50px;width:29.88px;height:17.50px;color:#D42020"><span>月</span></div><div class="t c" style="left:424.10px;top:194.00px;width:29.88px;height:17.50px;"><span>壬</span></div><div class="t c" style="left:424.10px;top:211.50px;width:29.88px;height:17.50px;"><span>辰</span></div><div class="t c two" style="left:424.10px;top:229.00px;width:29.88px;height:35.00px;"><span>二黒<br>土星</span></div><div class="t c hj" style="left:424.10px;top:332.40px;width:29.88px;height:17.90px;"><span>三碧</span></div><div class="t c" style="left:424.10px;top:350.30px;width:29.88px;height:17.20px;"><span>北西</span></div><div class="t c two" style="left:424.10px;top:367.50px;width:29.88px;height:38.60px;"><span>福運<br>隆盛</span></div><div class="t c nm" style="left:424.10px;top:406.10px;width:29.88px;height:17.40px;"><span>9</span></div><div class="t c nm" style="left:424.10px;top:479.40px;width:29.88px;height:18.10px;"><span>9</span></div><div class="t c hd" style="left:453.98px;top:156.00px;width:29.88px;height:20.50px;"><span><i>12</i>日</span></div><div class="t c hd" style="left:453.98px;top:497.50px;width:29.88px;height:17.00px;"><span><i>12</i>日</span></div><div class="t c" style="left:453.98px;top:176.50px;width:29.88px;height:17.50px;"><span>火</span></div><div class="t c" style="left:453.98px;top:194.00px;width:29.88px;height:17.50px;"><span>癸</span></div><div class="t c" style="left:453.98px;top:211.50px;width:29.88px;height:17.50px;"><span>巳</span></div><div class="t c two" style="left:453.98px;top:229.00px;width:29.88px;height:35.00px;"><span>三碧<br>木星</span></div><div class="t c hj" style="left:453.98px;top:332.40px;width:29.88px;height:17.90px;"><span>四緑</span></div><div class="t c" style="left:453.98px;top:350.30px;width:29.88px;height:17.20px;"><span>北西</span></div><div class="t c two" style="left:453.98px;top:367.50px;width:29.88px;height:38.60px;"><span>開運<br>発展</span></div><div class="t c nm" style="left:453.98px;top:406.10px;width:29.88px;height:17.40px;"><span>8</span></div><div class="t c two" style="left:453.98px;top:423.50px;width:29.88px;height:38.90px;"><span>注意<br>暗剣</span></div><div class="t c nm" style="left:453.98px;top:462.40px;width:29.88px;height:17.00px;"><span>−8</span></div><div class="t c nm" style="left:453.98px;top:479.40px;width:29.88px;height:18.10px;"><span>0</span></div><div class="t c hd" style="left:483.86px;top:156.00px;width:29.88px;height:20.50px;"><span><i>13</i>日</span></div><div class="t c hd" style="left:483.86px;top:497.50px;width:29.88px;height:17.00px;"><span><i>13</i>日</span></div><div class="t c" style="left:483.86px;top:176.50px;width:29.88px;height:17.50px;"><span>水</span></div><div class="t c" style="left:483.86px;top:194.00px;width:29.88px;height:17.50px;"><span>甲</span></div><div class="t c" style="left:483.86px;top:211.50px;width:29.88px;height:17.50px;"><span>午</span></div><div class="t c two" style="left:483.86px;top:229.00px;width:29.88px;height:35.00px;"><span>四緑<br>木星</span></div><div class="t c hj" style="left:483.86px;top:332.40px;width:29.88px;height:17.90px;"><span>九紫</span></div><div class="t c" style="left:483.86px;top:350.30px;width:29.88px;height:17.20px;"><span>北</span></div><div class="t c two" style="left:483.86px;top:367.50px;width:29.88px;height:38.60px;"><span>準備<br>始動</span></div><div class="t c nm" style="left:483.86px;top:406.10px;width:29.88px;height:17.40px;"><span>2</span></div><div class="t c nm" style="left:483.86px;top:479.40px;width:29.88px;height:18.10px;"><span>2</span></div><div class="t c hd" style="left:513.74px;top:156.00px;width:29.88px;height:20.50px;"><span><i>14</i>日</span></div><div class="t c hd" style="left:513.74px;top:497.50px;width:29.88px;height:17.00px;"><span><i>14</i>日</span></div><div class="t c" style="left:513.74px;top:176.50px;width:29.88px;height:17.50px;"><span>木</span></div><div class="t c" style="left:513.74px;top:194.00px;width:29.88px;height:17.50px;"><span>乙</span></div><div class="t c" style="left:513.74px;top:211.50px;width:29.88px;height:17.50px;"><span>未</span></div><div class="t c two" style="left:513.74px;top:229.00px;width:29.88px;height:35.00px;"><span>五黄<br>土星</span></div><div class="t c hj" style="left:513.74px;top:332.40px;width:29.88px;height:17.90px;"><span>八白</span></div><div class="t c" style="left:513.74px;top:350.30px;width:29.88px;height:17.20px;"><span>北東</span></div><div class="t c two" style="left:513.74px;top:367.50px;width:29.88px;height:38.60px;"><span>低迷<br>注意</span></div><div class="t c nm" style="left:513.74px;top:406.10px;width:29.88px;height:17.40px;"><span>−3</span></div><div class="t c nm" style="left:513.74px;top:479.40px;width:29.88px;height:18.10px;"><span>−3</span></div><div class="t c hd" style="left:543.62px;top:156.00px;width:29.88px;height:20.50px;"><span><i>15</i>日</span></div><div class="t c hd" style="left:543.62px;top:497.50px;width:29.88px;height:17.00px;"><span><i>15</i>日</span></div><div class="t c" style="left:543.62px;top:176.50px;width:29.88px;height:17.50px;"><span>金</span></div><div class="t c" style="left:543.62px;top:194.00px;width:29.88px;height:17.50px;"><span>丙</span></div><div class="t c" style="left:543.62px;top:211.50px;width:29.88px;height:17.50px;"><span>申</span></div><div class="t c two" style="left:543.62px;top:229.00px;width:29.88px;height:35.00px;"><span>六白<br>金星</span></div><div class="t c hj" style="left:543.62px;top:332.40px;width:29.88px;height:17.90px;"><span>九紫</span></div><div class="t c" style="left:543.62px;top:350.30px;width:29.88px;height:17.20px;"><span>北東</span></div><div class="t c two" style="left:543.62px;top:367.50px;width:29.88px;height:38.60px;"><span>明暗<br>慎重</span></div><div class="t c nm" style="left:543.62px;top:406.10px;width:29.88px;height:17.40px;"><span>5</span></div><div class="t c nm" style="left:543.62px;top:479.40px;width:29.88px;height:18.10px;"><span>5</span></div><div class="t c hd" style="left:573.50px;top:156.00px;width:29.88px;height:20.50px;"><span><i>16</i>日</span></div><div class="t c hd" style="left:573.50px;top:497.50px;width:29.88px;height:17.00px;"><span><i>16</i>日</span></div><div class="t c" style="left:573.50px;top:176.50px;width:29.88px;height:17.50px;"><span>土</span></div><div class="t c" style="left:573.50px;top:194.00px;width:29.88px;height:17.50px;"><span>丁</span></div><div class="t c" style="left:573.50px;top:211.50px;width:29.88px;height:17.50px;"><span>酉</span></div><div class="t c two" style="left:573.50px;top:229.00px;width:29.88px;height:35.00px;"><span>七赤<br>金星</span></div><div class="t c hj" style="left:573.50px;top:332.40px;width:29.88px;height:17.90px;"><span>五黄</span></div><div class="t c" style="left:573.50px;top:350.30px;width:29.88px;height:17.20px;"><span>東</span></div><div class="t c two" style="left:573.50px;top:367.50px;width:29.88px;height:38.60px;"><span>現状<br>維持</span></div><div class="t c nm" style="left:573.50px;top:406.10px;width:29.88px;height:17.40px;"><span>−2</span></div><div class="t c nm" style="left:573.50px;top:479.40px;width:29.88px;height:18.10px;"><span>−2</span></div><div class="t c hd" style="left:603.38px;top:156.00px;width:29.88px;height:20.50px;"><span><i>17</i>日</span></div><div class="t c hd" style="left:603.38px;top:497.50px;width:29.88px;height:17.00px;"><span><i>17</i>日</span></div><div class="t c" style="left:603.38px;top:176.50px;width:29.88px;height:17.50px;color:#D42020"><span>日</span></div><div class="t c" style="left:603.38px;top:194.00px;width:29.88px;height:17.50px;"><span>戊</span></div><div class="t c" style="left:603.38px;top:211.50px;width:29.88px;height:17.50px;"><span>戌</span></div><div class="t c two" style="left:603.38px;top:229.00px;width:29.88px;height:35.00px;"><span>八白<br>土星</span></div><div class="t c hj" style="left:603.38px;top:332.40px;width:29.88px;height:17.90px;"><span>七赤</span></div><div class="t c" style="left:603.38px;top:350.30px;width:29.88px;height:17.20px;"><span>南東</span></div><div class="t c two" style="left:603.38px;top:367.50px;width:29.88px;height:38.60px;"><span>金運<br>交際</span></div><div class="t c nm" style="left:603.38px;top:406.10px;width:29.88px;height:17.40px;"><span>6</span></div><div class="t c nm" style="left:603.38px;top:479.40px;width:29.88px;height:18.10px;"><span>6</span></div><div class="t c hd" style="left:633.26px;top:156.00px;width:29.88px;height:20.50px;"><span><i>18</i>日</span></div><div class="t c hd" style="left:633.26px;top:497.50px;width:29.88px;height:17.00px;"><span><i>18</i>日</span></div><div class="t c" style="left:633.26px;top:176.50px;width:29.88px;height:17.50px;"><span>月</span></div><div class="t c" style="left:633.26px;top:194.00px;width:29.88px;height:17.50px;"><span>己</span></div><div class="t c" style="left:633.26px;top:211.50px;width:29.88px;height:17.50px;"><span>亥</span></div><div class="t c two" style="left:633.26px;top:229.00px;width:29.88px;height:35.00px;"><span>九紫<br>火星</span></div><div class="t c hj" style="left:633.26px;top:332.40px;width:29.88px;height:17.90px;"><span>八白</span></div><div class="t c" style="left:633.26px;top:350.30px;width:29.88px;height:17.20px;"><span>南東</span></div><div class="t c two" style="left:633.26px;top:367.50px;width:29.88px;height:38.60px;"><span>強運<br>傾運</span></div><div class="t c nm" style="left:633.26px;top:406.10px;width:29.88px;height:17.40px;"><span>7</span></div><div class="t c nm" style="left:633.26px;top:479.40px;width:29.88px;height:18.10px;"><span>7</span></div><div class="t c hd" style="left:663.14px;top:156.00px;width:29.88px;height:20.50px;"><span><i>19</i>日</span></div><div class="t c hd" style="left:663.14px;top:497.50px;width:29.88px;height:17.00px;"><span><i>19</i>日</span></div><div class="t c" style="left:663.14px;top:176.50px;width:29.88px;height:17.50px;"><span>火</span></div><div class="t c" style="left:663.14px;top:194.00px;width:29.88px;height:17.50px;"><span>庚</span></div><div class="t c" style="left:663.14px;top:211.50px;width:29.88px;height:17.50px;"><span>子</span></div><div class="t c two" style="left:663.14px;top:229.00px;width:29.88px;height:35.00px;"><span>一白<br>水星</span></div><div class="t c hj" style="left:663.14px;top:332.40px;width:29.88px;height:17.90px;"><span>五黄</span></div><div class="t c" style="left:663.14px;top:350.30px;width:29.88px;height:17.20px;"><span>南</span></div><div class="t c two" style="left:663.14px;top:367.50px;width:29.88px;height:38.60px;"><span>盛極<br>静観</span></div><div class="t c nm" style="left:663.14px;top:406.10px;width:29.88px;height:17.40px;"><span>4</span></div><div class="t c nm" style="left:663.14px;top:479.40px;width:29.88px;height:18.10px;"><span>4</span></div><div class="t c hd" style="left:693.02px;top:156.00px;width:29.88px;height:20.50px;"><span><i>20</i>日</span></div><div class="t c hd" style="left:693.02px;top:497.50px;width:29.88px;height:17.00px;"><span><i>20</i>日</span></div><div class="t c" style="left:693.02px;top:176.50px;width:29.88px;height:17.50px;"><span>水</span></div><div class="t c" style="left:693.02px;top:194.00px;width:29.88px;height:17.50px;"><span>辛</span></div><div class="t c" style="left:693.02px;top:211.50px;width:29.88px;height:17.50px;"><span>丑</span></div><div class="t c two" style="left:693.02px;top:229.00px;width:29.88px;height:35.00px;"><span>二黒<br>土星</span></div><div class="t c hj" style="left:693.02px;top:332.40px;width:29.88px;height:17.90px;"><span>八白</span></div><div class="t c" style="left:693.02px;top:350.30px;width:29.88px;height:17.20px;"><span>南西</span></div><div class="t c two" style="left:693.02px;top:367.50px;width:29.88px;height:38.60px;"><span>福運<br>隆盛</span></div><div class="t c nm" style="left:693.02px;top:406.10px;width:29.88px;height:17.40px;"><span>9</span></div><div class="t c nm" style="left:693.02px;top:479.40px;width:29.88px;height:18.10px;"><span>9</span></div><div class="t c hd" style="left:722.90px;top:156.00px;width:29.88px;height:20.50px;"><span><i>21</i>日</span></div><div class="t c hd" style="left:722.90px;top:497.50px;width:29.88px;height:17.00px;"><span><i>21</i>日</span></div><div class="t c" style="left:722.90px;top:176.50px;width:29.88px;height:17.50px;"><span>木</span></div><div class="t c" style="left:722.90px;top:194.00px;width:29.88px;height:17.50px;"><span>壬</span></div><div class="t c" style="left:722.90px;top:211.50px;width:29.88px;height:17.50px;"><span>寅</span></div><div class="t c two" style="left:722.90px;top:229.00px;width:29.88px;height:35.00px;"><span>三碧<br>木星</span></div><div class="t c hj" style="left:722.90px;top:332.40px;width:29.88px;height:17.90px;"><span>九紫</span></div><div class="t c" style="left:722.90px;top:350.30px;width:29.88px;height:17.20px;"><span>南西</span></div><div class="t c two" style="left:722.90px;top:367.50px;width:29.88px;height:38.60px;"><span>開運<br>発展</span></div><div class="t c nm" style="left:722.90px;top:406.10px;width:29.88px;height:17.40px;"><span>8</span></div><div class="t c two" style="left:722.90px;top:423.50px;width:29.88px;height:38.90px;"><span>注意<br>暗剣</span></div><div class="t c nm" style="left:722.90px;top:462.40px;width:29.88px;height:17.00px;"><span>−8</span></div><div class="t c nm" style="left:722.90px;top:479.40px;width:29.88px;height:18.10px;"><span>0</span></div><div class="t c hd" style="left:752.78px;top:156.00px;width:29.88px;height:20.50px;"><span><i>22</i>日</span></div><div class="t c hd" style="left:752.78px;top:497.50px;width:29.88px;height:17.00px;"><span><i>22</i>日</span></div><div class="t c" style="left:752.78px;top:176.50px;width:29.88px;height:17.50px;"><span>金</span></div><div class="t c" style="left:752.78px;top:194.00px;width:29.88px;height:17.50px;"><span>癸</span></div><div class="t c" style="left:752.78px;top:211.50px;width:29.88px;height:17.50px;"><span>卯</span></div><div class="t c two" style="left:752.78px;top:229.00px;width:29.88px;height:35.00px;"><span>四緑<br>木星</span></div><div class="t c hj" style="left:752.78px;top:332.40px;width:29.88px;height:17.90px;"><span>六白</span></div><div class="t c" style="left:752.78px;top:350.30px;width:29.88px;height:17.20px;"><span>西</span></div><div class="t c two" style="left:752.78px;top:367.50px;width:29.88px;height:38.60px;"><span>準備<br>始動</span></div><div class="t c nm" style="left:752.78px;top:406.10px;width:29.88px;height:17.40px;"><span>2</span></div><div class="t c nm" style="left:752.78px;top:479.40px;width:29.88px;height:18.10px;"><span>2</span></div><div class="t c hd" style="left:782.66px;top:156.00px;width:29.88px;height:20.50px;"><span><i>23</i>日</span></div><div class="t c hd" style="left:782.66px;top:497.50px;width:29.88px;height:17.00px;"><span><i>23</i>日</span></div><div class="t c" style="left:782.66px;top:176.50px;width:29.88px;height:17.50px;"><span>土</span></div><div class="t c" style="left:782.66px;top:194.00px;width:29.88px;height:17.50px;"><span>甲</span></div><div class="t c" style="left:782.66px;top:211.50px;width:29.88px;height:17.50px;"><span>辰</span></div><div class="t c two" style="left:782.66px;top:229.00px;width:29.88px;height:35.00px;"><span>五黄<br>土星</span></div><div class="t c hj" style="left:782.66px;top:332.40px;width:29.88px;height:17.90px;"><span>六白</span></div><div class="t c" style="left:782.66px;top:350.30px;width:29.88px;height:17.20px;"><span>北西</span></div><div class="t c two" style="left:782.66px;top:367.50px;width:29.88px;height:38.60px;"><span>低迷<br>注意</span></div><div class="t c nm" style="left:782.66px;top:406.10px;width:29.88px;height:17.40px;"><span>−3</span></div><div class="t c nm" style="left:782.66px;top:479.40px;width:29.88px;height:18.10px;"><span>−3</span></div><div class="t c hd" style="left:812.54px;top:156.00px;width:29.88px;height:20.50px;"><span><i>24</i>日</span></div><div class="t c hd" style="left:812.54px;top:497.50px;width:29.88px;height:17.00px;"><span><i>24</i>日</span></div><div class="t c" style="left:812.54px;top:176.50px;width:29.88px;height:17.50px;color:#D42020"><span>日</span></div><div class="t c" style="left:812.54px;top:194.00px;width:29.88px;height:17.50px;"><span>乙</span></div><div class="t c" style="left:812.54px;top:211.50px;width:29.88px;height:17.50px;"><span>巳</span></div><div class="t c two" style="left:812.54px;top:229.00px;width:29.88px;height:35.00px;"><span>六白<br>金星</span></div><div class="t c hj" style="left:812.54px;top:332.40px;width:29.88px;height:17.90px;"><span>七赤</span></div><div class="t c" style="left:812.54px;top:350.30px;width:29.88px;height:17.20px;"><span>北西</span></div><div class="t c two" style="left:812.54px;top:367.50px;width:29.88px;height:38.60px;"><span>明暗<br>慎重</span></div><div class="t c nm" style="left:812.54px;top:406.10px;width:29.88px;height:17.40px;"><span>5</span></div><div class="t c nm" style="left:812.54px;top:479.40px;width:29.88px;height:18.10px;"><span>5</span></div><div class="t c hd" style="left:842.42px;top:156.00px;width:29.88px;height:20.50px;"><span><i>25</i>日</span></div><div class="t c hd" style="left:842.42px;top:497.50px;width:29.88px;height:17.00px;"><span><i>25</i>日</span></div><div class="t c" style="left:842.42px;top:176.50px;width:29.88px;height:17.50px;"><span>月</span></div><div class="t c" style="left:842.42px;top:194.00px;width:29.88px;height:17.50px;"><span>丙</span></div><div class="t c" style="left:842.42px;top:211.50px;width:29.88px;height:17.50px;"><span>午</span></div><div class="t c two" style="left:842.42px;top:229.00px;width:29.88px;height:35.00px;"><span>七赤<br>金星</span></div><div class="t c hj" style="left:842.42px;top:332.40px;width:29.88px;height:17.90px;"><span>三碧</span></div><div class="t c" style="left:842.42px;top:350.30px;width:29.88px;height:17.20px;"><span>北</span></div><div class="t c two" style="left:842.42px;top:367.50px;width:29.88px;height:38.60px;"><span>現状<br>維持</span></div><div class="t c nm" style="left:842.42px;top:406.10px;width:29.88px;height:17.40px;"><span>−2</span></div><div class="t c nm" style="left:842.42px;top:479.40px;width:29.88px;height:18.10px;"><span>−2</span></div><div class="t c hd" style="left:872.30px;top:156.00px;width:29.88px;height:20.50px;"><span><i>26</i>日</span></div><div class="t c hd" style="left:872.30px;top:497.50px;width:29.88px;height:17.00px;"><span><i>26</i>日</span></div><div class="t c" style="left:872.30px;top:176.50px;width:29.88px;height:17.50px;"><span>火</span></div><div class="t c" style="left:872.30px;top:194.00px;width:29.88px;height:17.50px;"><span>丁</span></div><div class="t c" style="left:872.30px;top:211.50px;width:29.88px;height:17.50px;"><span>未</span></div><div class="t c two" style="left:872.30px;top:229.00px;width:29.88px;height:35.00px;"><span>八白<br>土星</span></div><div class="t c hj" style="left:872.30px;top:332.40px;width:29.88px;height:17.90px;"><span>二黒</span></div><div class="t c" style="left:872.30px;top:350.30px;width:29.88px;height:17.20px;"><span>北東</span></div><div class="t c two" style="left:872.30px;top:367.50px;width:29.88px;height:38.60px;"><span>金運<br>交際</span></div><div class="t c nm" style="left:872.30px;top:406.10px;width:29.88px;height:17.40px;"><span>6</span></div><div class="t c nm" style="left:872.30px;top:479.40px;width:29.88px;height:18.10px;"><span>6</span></div><div class="t c hd" style="left:902.18px;top:156.00px;width:29.88px;height:20.50px;"><span><i>27</i>日</span></div><div class="t c hd" style="left:902.18px;top:497.50px;width:29.88px;height:17.00px;"><span><i>27</i>日</span></div><div class="t c" style="left:902.18px;top:176.50px;width:29.88px;height:17.50px;"><span>水</span></div><div class="t c" style="left:902.18px;top:194.00px;width:29.88px;height:17.50px;"><span>戊</span></div><div class="t c" style="left:902.18px;top:211.50px;width:29.88px;height:17.50px;"><span>申</span></div><div class="t c two" style="left:902.18px;top:229.00px;width:29.88px;height:35.00px;"><span>九紫<br>火星</span></div><div class="t c hj" style="left:902.18px;top:332.40px;width:29.88px;height:17.90px;"><span>三碧</span></div><div class="t c" style="left:902.18px;top:350.30px;width:29.88px;height:17.20px;"><span>北東</span></div><div class="t c two" style="left:902.18px;top:367.50px;width:29.88px;height:38.60px;"><span>強運<br>傾運</span></div><div class="t c nm" style="left:902.18px;top:406.10px;width:29.88px;height:17.40px;"><span>7</span></div><div class="t c nm" style="left:902.18px;top:479.40px;width:29.88px;height:18.10px;"><span>7</span></div><div class="t c hd" style="left:932.06px;top:156.00px;width:29.88px;height:20.50px;"><span><i>28</i>日</span></div><div class="t c hd" style="left:932.06px;top:497.50px;width:29.88px;height:17.00px;"><span><i>28</i>日</span></div><div class="t c" style="left:932.06px;top:176.50px;width:29.88px;height:17.50px;"><span>木</span></div><div class="t c" style="left:932.06px;top:194.00px;width:29.88px;height:17.50px;"><span>己</span></div><div class="t c" style="left:932.06px;top:211.50px;width:29.88px;height:17.50px;"><span>酉</span></div><div class="t c two" style="left:932.06px;top:229.00px;width:29.88px;height:35.00px;"><span>一白<br>水星</span></div><div class="t c hj" style="left:932.06px;top:332.40px;width:29.88px;height:17.90px;"><span>八白</span></div><div class="t c" style="left:932.06px;top:350.30px;width:29.88px;height:17.20px;"><span>東</span></div><div class="t c two" style="left:932.06px;top:367.50px;width:29.88px;height:38.60px;"><span>盛極<br>静観</span></div><div class="t c nm" style="left:932.06px;top:406.10px;width:29.88px;height:17.40px;"><span>4</span></div><div class="t c nm" style="left:932.06px;top:479.40px;width:29.88px;height:18.10px;"><span>4</span></div><div class="t c hd" style="left:961.94px;top:156.00px;width:29.88px;height:20.50px;"><span><i>29</i>日</span></div><div class="t c hd" style="left:961.94px;top:497.50px;width:29.88px;height:17.00px;"><span><i>29</i>日</span></div><div class="t c" style="left:961.94px;top:176.50px;width:29.88px;height:17.50px;"><span>金</span></div><div class="t c" style="left:961.94px;top:194.00px;width:29.88px;height:17.50px;"><span>庚</span></div><div class="t c" style="left:961.94px;top:211.50px;width:29.88px;height:17.50px;"><span>戌</span></div><div class="t c two" style="left:961.94px;top:229.00px;width:29.88px;height:35.00px;"><span>二黒<br>土星</span></div><div class="t c hj" style="left:961.94px;top:332.40px;width:29.88px;height:17.90px;"><span>一白</span></div><div class="t c" style="left:961.94px;top:350.30px;width:29.88px;height:17.20px;"><span>南東</span></div><div class="t c two" style="left:961.94px;top:367.50px;width:29.88px;height:38.60px;"><span>福運<br>隆盛</span></div><div class="t c nm" style="left:961.94px;top:406.10px;width:29.88px;height:17.40px;"><span>9</span></div><div class="t c two" style="left:961.94px;top:423.50px;width:29.88px;height:38.90px;color:#D42020"><span>注意<br>日破</span></div><div class="t c nm" style="left:961.94px;top:462.40px;width:29.88px;height:17.00px;color:#D42020"><span>−8</span></div><div class="t c nm" style="left:961.94px;top:479.40px;width:29.88px;height:18.10px;"><span>1</span></div><div class="t c hd" style="left:991.82px;top:156.00px;width:29.88px;height:20.50px;"><span><i>30</i>日</span></div><div class="t c hd" style="left:991.82px;top:497.50px;width:29.88px;height:17.00px;"><span><i>30</i>日</span></div><div class="t c" style="left:991.82px;top:176.50px;width:29.88px;height:17.50px;"><span>土</span></div><div class="t c" style="left:991.82px;top:194.00px;width:29.88px;height:17.50px;"><span>辛</span></div><div class="t c" style="left:991.82px;top:211.50px;width:29.88px;height:17.50px;"><span>亥</span></div><div class="t c two" style="left:991.82px;top:229.00px;width:29.88px;height:35.00px;"><span>三碧<br>木星</span></div><div class="t c hj" style="left:991.82px;top:332.40px;width:29.88px;height:17.90px;"><span>二黒</span></div><div class="t c" style="left:991.82px;top:350.30px;width:29.88px;height:17.20px;"><span>南東</span></div><div class="t c two" style="left:991.82px;top:367.50px;width:29.88px;height:38.60px;"><span>開運<br>発展</span></div><div class="t c nm" style="left:991.82px;top:406.10px;width:29.88px;height:17.40px;"><span>8</span></div><div class="t c two" style="left:991.82px;top:423.50px;width:29.88px;height:38.90px;"><span>注意<br>暗剣</span></div><div class="t c nm" style="left:991.82px;top:462.40px;width:29.88px;height:17.00px;"><span>−8</span></div><div class="t c nm" style="left:991.82px;top:479.40px;width:29.88px;height:18.10px;"><span>0</span></div><div class="t c hd" style="left:1021.70px;top:156.00px;width:29.88px;height:20.50px;"><span><i>31</i>日</span></div><div class="t c hd" style="left:1021.70px;top:497.50px;width:29.88px;height:17.00px;"><span><i>31</i>日</span></div><div class="t c" style="left:1021.70px;top:176.50px;width:29.88px;height:17.50px;color:#D42020"><span>日</span></div><div class="t c" style="left:1021.70px;top:194.00px;width:29.88px;height:17.50px;"><span>壬</span></div><div class="t c" style="left:1021.70px;top:211.50px;width:29.88px;height:17.50px;"><span>子</span></div><div class="t c two" style="left:1021.70px;top:229.00px;width:29.88px;height:35.00px;"><span>四緑<br>木星</span></div><div class="t c hj" style="left:1021.70px;top:332.40px;width:29.88px;height:17.90px;"><span>八白</span></div><div class="t c" style="left:1021.70px;top:350.30px;width:29.88px;height:17.20px;"><span>南</span></div><div class="t c two" style="left:1021.70px;top:367.50px;width:29.88px;height:38.60px;"><span>準備<br>始動</span></div><div class="t c nm" style="left:1021.70px;top:406.10px;width:29.88px;height:17.40px;"><span>2</span></div><div class="t c nm" style="left:1021.70px;top:479.40px;width:29.88px;height:18.10px;"><span>2</span></div>
<div class="msg" style="left:322px;top:272.7px;">
<div><span style="color:#E0452A">好調期</span>／今までの計画を積極的に行動に移しチャレンジする時期</div>
<div><span style="color:#2FA05A">安定期</span>／基本を確認しながら心身を安定させて地道な活動をする時期</div>
<div><span style="color:#2E86C1">低迷期</span>／現状維持と健康に配慮し開運期への計画・準備をする時期</div>
</div>
<svg class="chart" width="1122" height="794" viewBox="0 0 1122 794"><defs><clipPath id="cp"><rect x="125.3" y="514.5" width="926.28" height="207.79999999999995"/></clipPath></defs><g clip-path="url(#cp)"><path d="M141.5,601.2 L171.3,516.9 L201.1,668.7 L231.0,635.0 L260.8,719.3 L290.6,584.4 L320.4,702.5 L350.2,567.5 L380.1,550.6 L409.9,601.2 L439.7,516.9 L469.5,668.7 L499.3,635.0 L529.2,719.3 L559.0,584.4 L588.8,702.5 L618.6,567.5 L648.4,550.6 L678.3,601.2 L708.1,516.9 L737.9,668.7 L767.7,635.0 L797.5,719.3 L827.4,584.4 L857.2,702.5 L887.0,567.5 L916.8,550.6 L946.6,601.2 L976.5,651.9 L1006.3,668.7 L1036.1,635.0" fill="none" stroke="#132A5C" stroke-width="3.8" stroke-linejoin="round"/><path d="M141.5,597.6 L145.1,601.2 L141.5,604.9 L137.9,601.2Z" fill="#C8101A"/><path d="M171.3,513.3 L174.9,516.9 L171.3,520.5 L167.7,516.9Z" fill="#C8101A"/><path d="M201.1,665.1 L204.7,668.7 L201.1,672.3 L197.5,668.7Z" fill="#C8101A"/><path d="M231.0,631.4 L234.6,635.0 L231.0,638.6 L227.4,635.0Z" fill="#C8101A"/><path d="M260.8,715.7 L264.4,719.3 L260.8,722.9 L257.2,719.3Z" fill="#C8101A"/><path d="M290.6,580.8 L294.2,584.4 L290.6,588.0 L287.0,584.4Z" fill="#C8101A"/><path d="M320.4,698.9 L324.0,702.5 L320.4,706.1 L316.8,702.5Z" fill="#C8101A"/><path d="M350.2,563.9 L353.8,567.5 L350.2,571.1 L346.6,567.5Z" fill="#C8101A"/><path d="M380.1,547.0 L383.7,550.6 L380.1,554.2 L376.5,550.6Z" fill="#C8101A"/><path d="M409.9,597.6 L413.5,601.2 L409.9,604.9 L406.3,601.2Z" fill="#C8101A"/><path d="M439.7,513.3 L443.3,516.9 L439.7,520.5 L436.1,516.9Z" fill="#C8101A"/><path d="M469.5,665.1 L473.1,668.7 L469.5,672.3 L465.9,668.7Z" fill="#C8101A"/><path d="M499.3,631.4 L502.9,635.0 L499.3,638.6 L495.7,635.0Z" fill="#C8101A"/><path d="M529.2,715.7 L532.8,719.3 L529.2,722.9 L525.6,719.3Z" fill="#C8101A"/><path d="M559.0,580.8 L562.6,584.4 L559.0,588.0 L555.4,584.4Z" fill="#C8101A"/><path d="M588.8,698.9 L592.4,702.5 L588.8,706.1 L585.2,702.5Z" fill="#C8101A"/><path d="M618.6,563.9 L622.2,567.5 L618.6,571.1 L615.0,567.5Z" fill="#C8101A"/><path d="M648.4,547.0 L652.0,550.6 L648.4,554.2 L644.8,550.6Z" fill="#C8101A"/><path d="M678.3,597.6 L681.9,601.2 L678.3,604.9 L674.7,601.2Z" fill="#C8101A"/><path d="M708.1,513.3 L711.7,516.9 L708.1,520.5 L704.5,516.9Z" fill="#C8101A"/><path d="M737.9,665.1 L741.5,668.7 L737.9,672.3 L734.3,668.7Z" fill="#C8101A"/><path d="M767.7,631.4 L771.3,635.0 L767.7,638.6 L764.1,635.0Z" fill="#C8101A"/><path d="M797.5,715.7 L801.1,719.3 L797.5,722.9 L793.9,719.3Z" fill="#C8101A"/><path d="M827.4,580.8 L831.0,584.4 L827.4,588.0 L823.8,584.4Z" fill="#C8101A"/><path d="M857.2,698.9 L860.8,702.5 L857.2,706.1 L853.6,702.5Z" fill="#C8101A"/><path d="M887.0,563.9 L890.6,567.5 L887.0,571.1 L883.4,567.5Z" fill="#C8101A"/><path d="M916.8,547.0 L920.4,550.6 L916.8,554.2 L913.2,550.6Z" fill="#C8101A"/><path d="M946.6,597.6 L950.2,601.2 L946.6,604.9 L943.0,601.2Z" fill="#C8101A"/><path d="M976.5,648.3 L980.1,651.9 L976.5,655.5 L972.9,651.9Z" fill="#C8101A"/><path d="M1006.3,665.1 L1009.9,668.7 L1006.3,672.3 L1002.7,668.7Z" fill="#C8101A"/><path d="M1036.1,631.4 L1039.7,635.0 L1036.1,638.6 L1032.5,635.0Z" fill="#C8101A"/></g></svg>
</body></html>
